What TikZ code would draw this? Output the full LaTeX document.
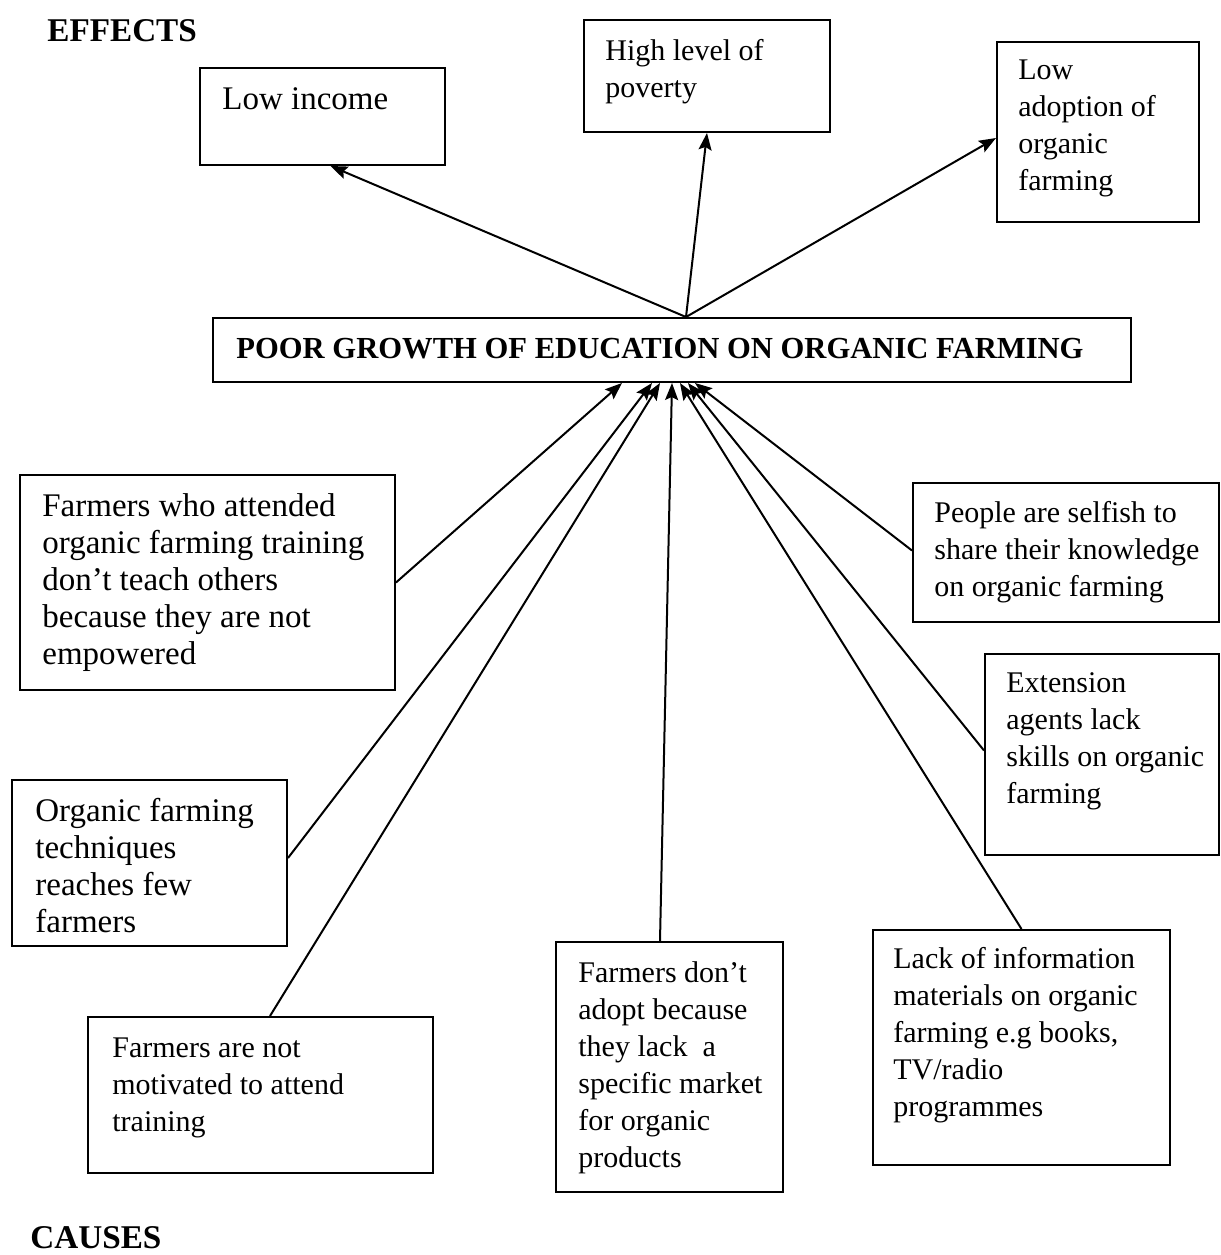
\documentclass[tikz,border=0pt]{standalone}
\usepackage{fontspec}
\setmainfont{Liberation Serif}
\usetikzlibrary{arrows.meta,calc}

\begin{document}
\begin{tikzpicture}[x=0.5pt,y=-0.5pt,
    box/.style={draw,line width=1pt,inner sep=0pt},
    txt/.style={anchor=north west,align=left,inner sep=0pt,font=\fontsize{15}{18.5}\selectfont},
    wide/.style={font=\fontsize{16.5}{18.5}\selectfont},
    head/.style={anchor=north west,inner sep=0pt,font=\bfseries\fontsize{16.6}{18.5}\selectfont},
    arr/.style={-{Stealth[length=8.5pt,width=6.5pt,inset=1.5pt]},line width=1pt}]
    \useasboundingbox (0,0) rectangle (1221,1255);

    \node (effects) at (47,19) [head]{EFFECTS};
    \node (causes) at (30,1226) [head]{CAUSES};

    \node (lowinc) at (322.5,116.5) [box,minimum width=122.5pt,minimum height=48.5pt]{};
    \node (poverty) at (707,76) [box,minimum width=123pt,minimum height=56pt]{};
    \node (adopt) at (1098,132) [box,minimum width=101pt,minimum height=90pt]{};
    \node (central) at (672,350) [box,minimum width=459pt,minimum height=32pt]{};
    \node (attended) at (207.5,582.5) [box,minimum width=187.5pt,minimum height=107.5pt]{};
    \node (selfish) at (1066,552.5) [box,minimum width=153pt,minimum height=69.5pt]{};
    \node (extension) at (1102,754.5) [box,minimum width=117pt,minimum height=100.5pt]{};
    \node (techniques) at (149.5,863) [box,minimum width=137.5pt,minimum height=83pt]{};
    \node (motivated) at (260.5,1095) [box,minimum width=172.5pt,minimum height=78pt]{};
    \node (market) at (669.5,1067) [box,minimum width=113.5pt,minimum height=125pt]{};
    \node (lackinfo) at (1021.5,1047.5) [box,minimum width=148.5pt,minimum height=117.5pt]{};

    \node (lowinc-t) at (222,87) [txt,wide]{Low income};
    \node (poverty-t) at (605,39) [txt]{High level of\\poverty};
    \node (adopt-t) at (1018,59) [txt]{Low\\adoption of\\organic\\farming};
    \node (central-t) at (236,338) [head,font=\bfseries\fontsize{15.3}{18}\selectfont]{POOR GROWTH OF EDUCATION ON ORGANIC FARMING};
    \node (attended-t) at (42,493) [txt,wide]{Farmers who attended\\organic farming training\\don’t teach others\\because they are not\\empowered};
    \node (selfish-t) at (934,501) [txt]{People are selfish to\\share their knowledge\\on organic farming};
    \node (extension-t) at (1006,672) [txt]{Extension\\agents lack\\skills on organic\\farming};
    \node (techniques-t) at (35,798) [txt,wide]{Organic farming\\techniques\\reaches few\\farmers};
    \node (motivated-t) at (112,1037) [txt]{Farmers are not\\motivated to attend\\training};
    \node (market-t) at (578,961) [txt]{Farmers don’t\\adopt because\\they lack\ \ a\\specific market\\for organic\\products};
    \node (lackinfo-t) at (893,947) [txt]{Lack of information\\materials on organic\\farming e.g books,\\TV/radio\\programmes};

    \draw [arr] ($(central.north)+(14,0)$) to ($(lowinc.south)+(8,0)$);
    \draw [arr] ($(central.north)+(14,0)$) to (poverty.south);
    \draw [arr] ($(central.north)+(14,0)$) to ($(adopt.west)+(0,6)$);

    \draw [arr] (attended.east) to ($(central.south)+(-50,0)$);
    \draw [arr] ($(techniques.east)+(0,-5)$) to ($(central.south)+(-20,0)$);
    \draw [arr] ($(motivated.north)+(9.5,0)$) to ($(central.south)+(-12,0)$);
    \draw [arr] ($(market.north)+(-9.5,0)$) to (central.south);
    \draw [arr] (lackinfo.north) to ($(central.south)+(8,0)$);
    \draw [arr] ($(extension.west)+(0,-4)$) to ($(central.south)+(16,0)$);
    \draw [arr] ($(selfish.west)+(0,-2)$) to ($(central.south)+(23,0)$);
\end{tikzpicture}
\end{document}
